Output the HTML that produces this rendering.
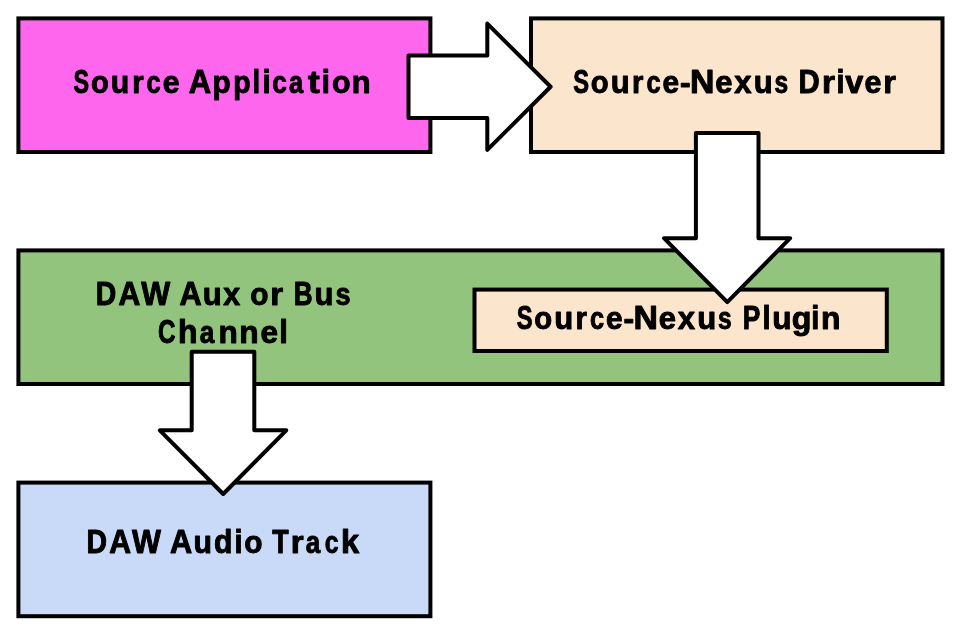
<!DOCTYPE html>
<html><head><meta charset="utf-8">
<style>
html,body{margin:0;padding:0;background:#fff;}
svg{display:block;will-change:transform;}
text{font-family:"Liberation Sans",sans-serif;font-weight:bold;font-size:33px;fill:#000;stroke:#000;stroke-width:1.0px;stroke-linejoin:round;}
</style></head>
<body>
<svg width="960" height="643" viewBox="0 0 960 643">
<g stroke="#000" stroke-width="4" stroke-linejoin="miter">
<rect x="18.4" y="18.4" width="412" height="133.6" fill="#ff66ee"/>
<rect x="531" y="18.4" width="411.5" height="133.6" fill="#fce5cd"/>
<rect x="18.4" y="250.4" width="924.1" height="133.6" fill="#93c47d"/>
<rect x="474.5" y="289.6" width="412.3" height="61.4" fill="#fce5cd"/>
<rect x="18.4" y="482.6" width="412" height="133.6" fill="#c9daf8"/>
</g>
<g><text transform="matrix(0.7081 0 0 0.9822 73.43 92.60)">S</text><text transform="matrix(0.8817 0 0 0.9349 90.90 92.60)">o</text><text transform="matrix(0.9162 0 0 0.9349 110.78 92.60)">u</text><text transform="matrix(0.8852 0 0 0.9349 132.27 92.60)">r</text><text transform="matrix(0.7703 0 0 0.9349 146.59 92.60)">c</text><text transform="matrix(0.9162 0 0 0.9349 162.68 92.60)">e</text><text> </text><text transform="matrix(0.9395 0 0 0.9822 188.80 92.60)">A</text><text transform="matrix(0.9020 0 0 0.9349 212.49 92.60)">p</text><text transform="matrix(0.8599 0 0 0.9349 233.26 92.60)">p</text><text transform="matrix(0.8282 0 0 0.9953 252.51 92.60)">l</text><text transform="matrix(0.8834 0 0 0.9953 262.41 92.60)">i</text><text transform="matrix(0.7952 0 0 0.9349 272.17 92.60)">c</text><text transform="matrix(0.7729 0 0 0.9349 289.04 92.60)">a</text><text transform="matrix(1.0703 0 0 0.9291 307.90 92.60)">t</text><text transform="matrix(0.8834 0 0 0.9953 321.81 92.60)">i</text><text transform="matrix(0.9215 0 0 0.9349 332.07 92.60)">o</text><text transform="matrix(0.9350 0 0 0.9349 351.73 92.60)">n</text></g>
<g><text transform="matrix(0.7182 0 0 0.9822 573.28 92.60)">S</text><text transform="matrix(0.8874 0 0 0.9349 590.80 92.60)">o</text><text transform="matrix(0.9413 0 0 0.9349 610.64 92.60)">u</text><text transform="matrix(0.8852 0 0 0.9349 632.12 92.60)">r</text><text transform="matrix(0.7703 0 0 0.9349 646.44 92.60)">c</text><text transform="matrix(0.9068 0 0 0.9349 662.53 92.60)">e</text><text transform="matrix(0.9667 0 0 0.9349 680.04 92.60)">-</text><text transform="matrix(1.0258 0 0 0.9822 690.05 92.60)">N</text><text transform="matrix(0.9413 0 0 0.9349 715.36 92.60)">e</text><text transform="matrix(0.9421 0 0 0.9349 734.21 92.60)">x</text><text transform="matrix(0.9413 0 0 0.9349 753.74 92.60)">u</text><text transform="matrix(0.7450 0 0 0.9349 774.41 92.60)">s</text><text> </text><text transform="matrix(0.8894 0 0 0.9822 798.48 92.60)">D</text><text transform="matrix(1.0081 0 0 0.9349 822.06 92.60)">r</text><text transform="matrix(0.8613 0 0 0.9953 836.55 92.60)">i</text><text transform="matrix(0.9818 0 0 0.9349 845.36 92.60)">v</text><text transform="matrix(0.9224 0 0 0.9349 864.57 92.60)">e</text><text transform="matrix(0.9835 0 0 0.9349 883.35 92.60)">r</text></g>
<g><text transform="matrix(0.8598 0 0 0.9822 95.73 304.80)">D</text><text transform="matrix(0.9146 0 0 0.9822 118.46 304.80)">A</text><text transform="matrix(0.9298 0 0 0.9822 141.33 304.80)">W</text><text> </text><text transform="matrix(0.9305 0 0 0.9822 179.40 304.80)">A</text><text transform="matrix(0.9413 0 0 0.9349 202.74 304.80)">u</text><text transform="matrix(0.9225 0 0 0.9349 223.35 304.80)">x</text><text> </text><text transform="matrix(0.9045 0 0 0.9349 250.19 304.80)">o</text><text transform="matrix(1.0032 0 0 0.9349 270.22 304.80)">r</text><text> </text><text transform="matrix(0.7900 0 0 0.9822 293.75 304.80)">B</text><text transform="matrix(0.9413 0 0 0.9349 314.54 304.80)">u</text><text transform="matrix(0.8207 0 0 0.9349 335.46 304.80)">s</text></g>
<g><text transform="matrix(0.7346 0 0 0.9822 158.12 343.30)">C</text><text transform="matrix(0.9679 0 0 0.9953 177.95 343.30)">h</text><text transform="matrix(0.7956 0 0 0.9349 199.63 343.30)">a</text><text transform="matrix(0.9570 0 0 0.9349 218.40 343.30)">n</text><text transform="matrix(0.9601 0 0 0.9349 239.29 343.30)">n</text><text transform="matrix(0.9570 0 0 0.9349 260.49 343.30)">e</text><text transform="matrix(0.9386 0 0 0.9953 279.31 343.30)">l</text></g>
<g><text transform="matrix(0.7182 0 0 0.9822 516.78 328.70)">S</text><text transform="matrix(0.8874 0 0 0.9349 534.30 328.70)">o</text><text transform="matrix(0.9413 0 0 0.9349 554.14 328.70)">u</text><text transform="matrix(0.8852 0 0 0.9349 575.62 328.70)">r</text><text transform="matrix(0.7703 0 0 0.9349 589.94 328.70)">c</text><text transform="matrix(0.9068 0 0 0.9349 606.03 328.70)">e</text><text transform="matrix(0.9667 0 0 0.9349 623.54 328.70)">-</text><text transform="matrix(1.0258 0 0 0.9822 633.55 328.70)">N</text><text transform="matrix(0.9413 0 0 0.9349 658.86 328.70)">e</text><text transform="matrix(0.9421 0 0 0.9349 677.71 328.70)">x</text><text transform="matrix(0.9413 0 0 0.9349 697.24 328.70)">u</text><text transform="matrix(0.7450 0 0 0.9349 717.91 328.70)">s</text><text> </text><text transform="matrix(0.7978 0 0 0.9822 742.74 328.70)">P</text><text transform="matrix(0.8834 0 0 0.9953 762.41 328.70)">l</text><text transform="matrix(0.9570 0 0 0.9349 772.27 328.70)">u</text><text transform="matrix(0.9761 0 0 0.9349 791.67 328.70)">g</text><text transform="matrix(0.8834 0 0 0.9953 811.21 328.70)">i</text><text transform="matrix(0.9664 0 0 0.9349 820.88 328.70)">n</text></g>
<g><text transform="matrix(0.8598 0 0 0.9822 86.43 553.00)">D</text><text transform="matrix(0.9146 0 0 0.9822 109.16 553.00)">A</text><text transform="matrix(0.9298 0 0 0.9822 132.03 553.00)">W</text><text> </text><text transform="matrix(0.9305 0 0 0.9822 170.00 553.00)">A</text><text transform="matrix(0.9162 0 0 0.9349 193.58 553.00)">u</text><text transform="matrix(0.9141 0 0 0.9953 213.92 553.00)">d</text><text transform="matrix(0.8834 0 0 0.9953 234.41 553.00)">i</text><text transform="matrix(0.9045 0 0 0.9349 244.29 553.00)">o</text><text> </text><text transform="matrix(0.8131 0 0 0.9822 272.21 553.00)">T</text><text transform="matrix(1.0032 0 0 0.9349 290.72 553.00)">r</text><text transform="matrix(0.7900 0 0 0.9349 305.73 553.00)">a</text><text transform="matrix(0.7517 0 0 0.9349 324.71 553.00)">c</text><text transform="matrix(0.9887 0 0 0.9953 341.02 553.00)">k</text></g>
<g stroke="#000" stroke-width="4" stroke-linejoin="round" fill="#fff">
<path d="M408.5 55.6H487.3V23.6L550.6 86.75L487.3 149.9V117.9H408.5Z"/>
<path d="M695.9 132.9H758.5V238.2H790.2L727.3 302.1L664 238.2H695.9Z"/>
<path d="M191.7 351.7H254.3V430.3H286.3L223.2 494L159.8 430.3H191.7Z"/>
</g>
</svg>
</body></html>
